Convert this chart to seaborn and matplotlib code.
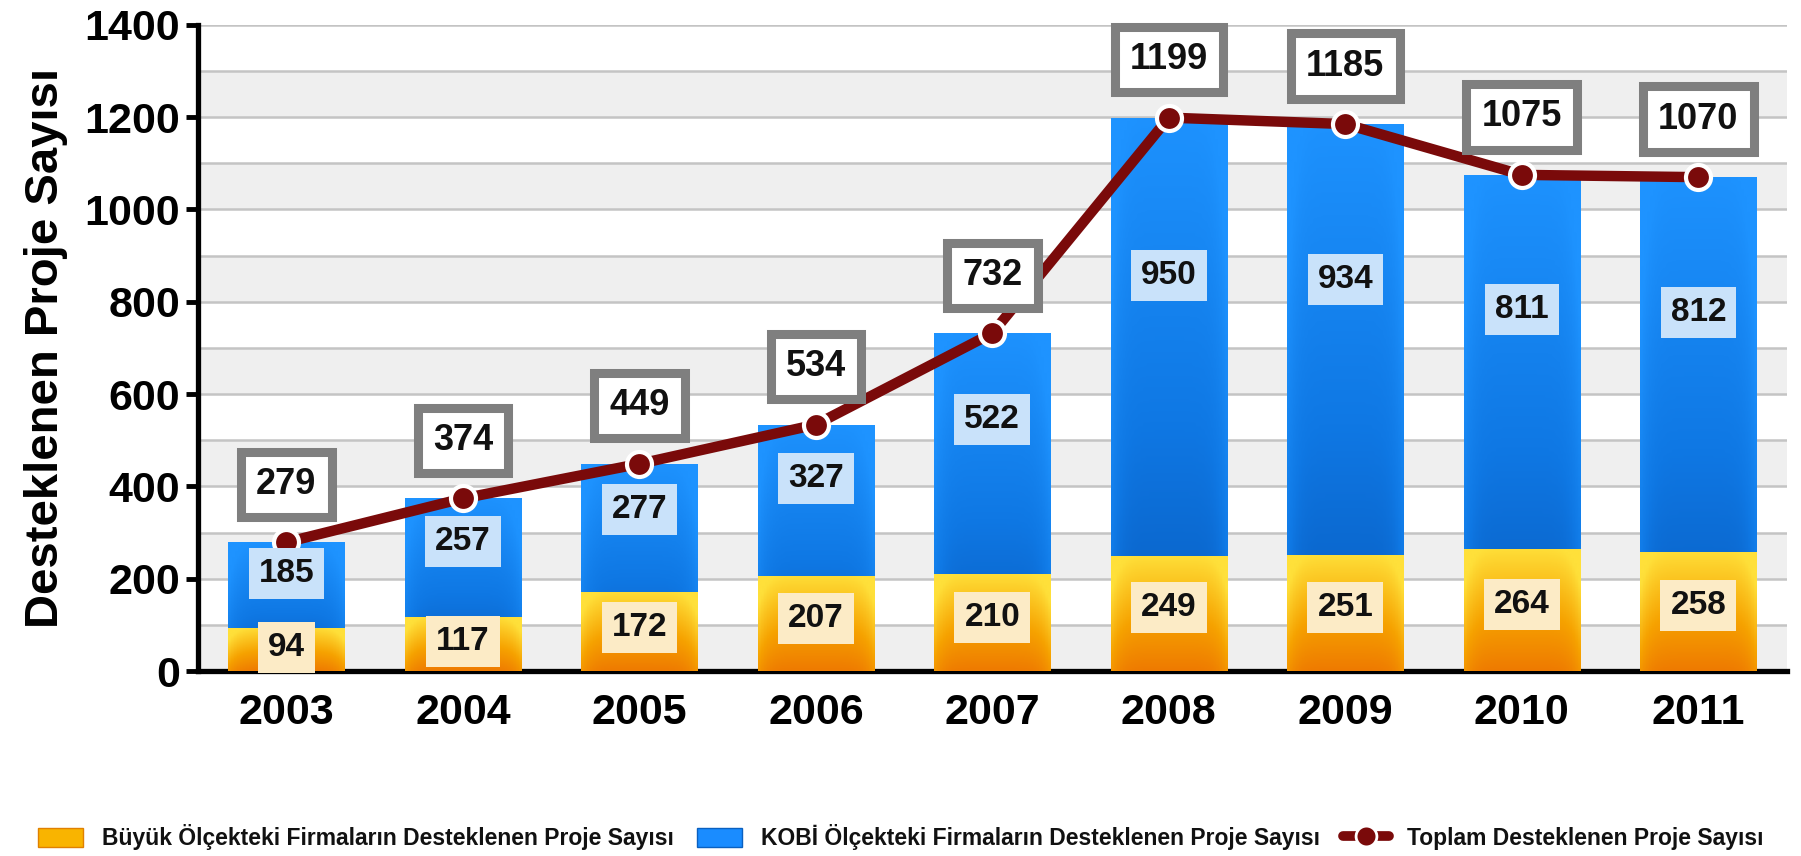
import numpy as np
import pandas as pd
import matplotlib
matplotlib.use("Agg")
import matplotlib.pyplot as plt
import matplotlib.colors as mcolors
from matplotlib.patches import Patch
from matplotlib.lines import Line2D
import seaborn as sns

years = ["2003", "2004", "2005", "2006", "2007", "2008", "2009", "2010", "2011"]
buyuk = [94, 117, 172, 207, 210, 249, 251, 264, 258]
kobi = [185, 257, 277, 327, 522, 950, 934, 811, 812]
toplam = [279, 374, 449, 534, 732, 1199, 1185, 1075, 1070]
y_ticks = [0, 200, 400, 600, 800, 1000, 1200, 1400]
y_label = "Desteklenen Proje Sayısı"
legend_labels = ["Büyük Ölçekteki Firmaların Desteklenen Proje Sayısı",
                 "KOBİ Ölçekteki Firmaların Desteklenen Proje Sayısı",
                 "Toplam Desteklenen Proje Sayısı"]

sns.set_theme(style="white")
plt.rcParams['font.family'] = ['Liberation Sans', 'DejaVu Sans']
plt.rcParams['text.color'] = 'black'
plt.rcParams['axes.labelcolor'] = 'black'
plt.rcParams['xtick.color'] = 'black'
plt.rcParams['ytick.color'] = 'black'

df = pd.DataFrame({"year": years, "buyuk": buyuk, "kobi": kobi, "toplam": toplam})
df["kobi_top"] = df["buyuk"] + df["kobi"]

fig = plt.figure(figsize=(18.01, 8.56), dpi=100)
ax = fig.add_axes([0.110, 0.216, 0.882, 0.755])

# background bands and grid
for v in range(0, 1400, 200):
    ax.axhspan(v, v + 100, color="#EFEFEF", zorder=0, lw=0)
for v in range(100, 1500, 100):
    ax.axhline(v, color="#C4C4C4", lw=1.8, zorder=0.5)

sns.barplot(data=df, x="year", y="kobi_top", color="#1A8CFF", width=0.66,
            ax=ax, zorder=2, saturation=1, linewidth=0)
sns.barplot(data=df, x="year", y="buyuk", color="#FFC000", width=0.66,
            ax=ax, zorder=3, saturation=1, linewidth=0)

blue_cmap = mcolors.LinearSegmentedColormap.from_list("b", ["#0652B2", "#0F78E4", "#1E93FF"])
yel_cmap = mcolors.LinearSegmentedColormap.from_list("y", ["#EC6E00", "#F6A200", "#FFE03A"])

def shade(container, cmap, z):
    for p in container.patches:
        x0, y0 = p.get_x(), p.get_y()
        w, h = p.get_width(), p.get_height()
        vert = np.linspace(0, 1, 64)[:, None]
        horiz = np.abs(np.linspace(-1, 1, 40))[None, :] ** 6
        grad = np.clip(vert * 0.85 + 0.12 + 0.25 * horiz, 0, 1)
        im = ax.imshow(grad, cmap=cmap, origin="lower", aspect="auto",
                       extent=(x0, x0 + w, y0, y0 + h), zorder=z, vmin=0, vmax=1)
        im.set_clip_path(p)

shade(ax.containers[0], blue_cmap, 2.1)
shade(ax.containers[1], yel_cmap, 3.1)

x = np.arange(len(years))
sns.lineplot(x=x, y=df["toplam"], ax=ax, color="#7A0A0A", lw=7.5, zorder=5,
             marker="o", markersize=18, markerfacecolor="#7A0A0A",
             markeredgecolor="white", markeredgewidth=3)

for i in range(len(years)):
    ax.text(i, buyuk[i] * 0.55, str(buyuk[i]), ha="center", va="center",
            fontsize=24, fontweight="bold", color="#111111", zorder=7,
            bbox=dict(boxstyle="square,pad=0.3", fc="#FCEBC6", ec="none"))
    ax.text(i, buyuk[i] + kobi[i] * 0.64, str(kobi[i]), ha="center", va="center",
            fontsize=24, fontweight="bold", color="#111111", zorder=7,
            bbox=dict(boxstyle="square,pad=0.3", fc="#C9E2FA", ec="none"))
    ax.annotate(str(toplam[i]), (i, toplam[i]), xytext=(0, 58),
                textcoords="offset pixels",
                ha="center", va="center", fontsize=26, fontweight="bold",
                color="#111111", zorder=8,
                bbox=dict(boxstyle="square,pad=0.42", fc="white", ec="#7F7F7F", lw=6.5))

ax.set_xlim(-0.5, 8.5)
ax.set_ylim(0, 1400)
ax.set_yticks(y_ticks)
ax.set_yticklabels([str(v) for v in y_ticks], fontsize=31, fontweight="bold")
ax.set_xticks(x)
ax.set_xticklabels(years, fontsize=31, fontweight="bold")
ax.set_xticks(np.arange(-0.5, 9.0, 1.0), minor=True)
ax.tick_params(axis="x", which="major", length=0, pad=16)
ax.tick_params(axis="x", which="minor", length=12, width=3.5, direction="out", color="black")
ax.tick_params(axis="y", length=9, width=3.5, direction="out", color="black", pad=4, left=True)
ax.set_xlabel("")
ax.set_ylabel(y_label, fontsize=34, fontweight="bold", labelpad=12, color="black")
for s in ["top", "right"]:
    ax.spines[s].set_visible(False)
for s in ["left", "bottom"]:
    ax.spines[s].set_color("black")
    ax.spines[s].set_linewidth(3.8)
ax.grid(False)

handles = [Patch(fc="#F9B400", ec="#E08000", lw=1),
           Patch(fc="#1A8CFF", ec="#0A60C0", lw=1),
           Line2D([0], [0], color="#7A0A0A", lw=7, marker="o", markersize=15,
                  markerfacecolor="#7A0A0A", markeredgecolor="white", markeredgewidth=2)]
fig.legend(handles, legend_labels, loc="center", bbox_to_anchor=(0.5, 0.022),
           ncol=3, frameon=False, prop=dict(size=16.5, weight="bold"),
           handlelength=2.0, handleheight=0.9, columnspacing=1.0, handletextpad=0.8,
           labelcolor="#111111")

fig.savefig("out.png", dpi=100)
